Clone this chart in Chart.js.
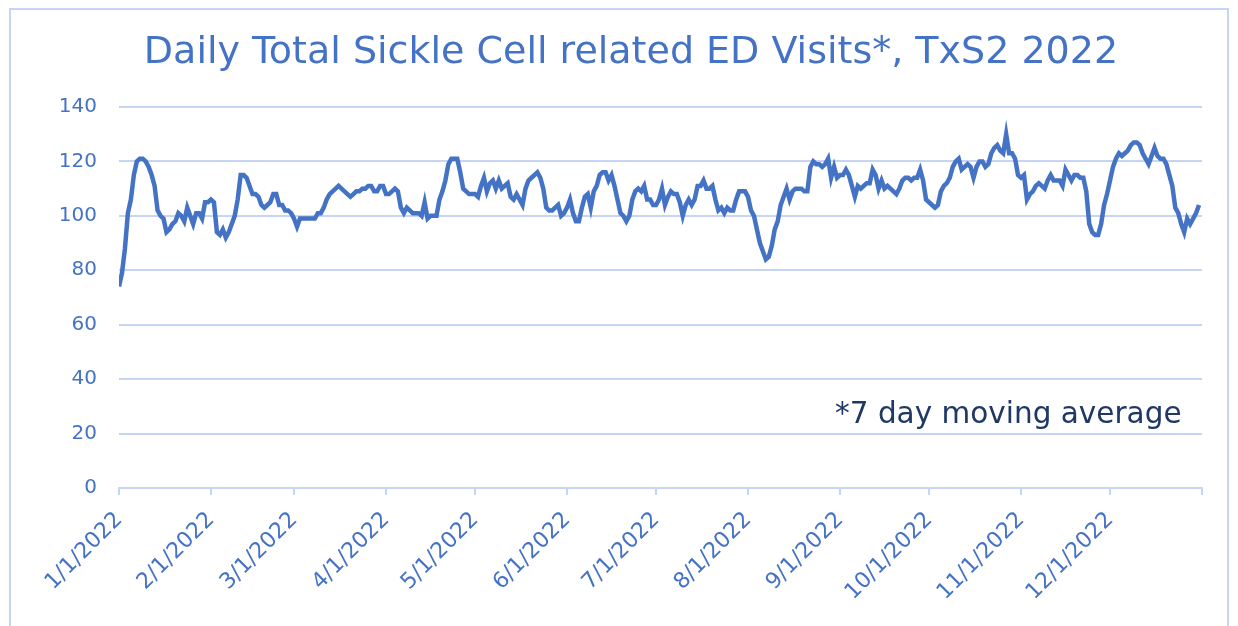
<!DOCTYPE html>
<html>
<head>
<meta charset="utf-8">
<script src="https://cdn.jsdelivr.net/npm/chart.js@4/dist/chart.umd.min.js"></script>
<style>
  html, body { margin: 0; padding: 0; background: #fff; }
  body { width: 1238px; height: 626px; position: relative; overflow: hidden; font-family: "DejaVu Sans", Verdana, sans-serif; }
  #frame { position: absolute; left: 9px; top: 8px; width: 1220px; height: 700px; border: 2px solid #c6d5f5; box-sizing: border-box; }
  #title { position: absolute; left: 0; width: 1262px; top: 28px; text-align: center; font-size: 38px; color: #4472c4; white-space: nowrap; }
  #note { position: absolute; left: 835px; top: 396px; font-size: 29.5px; color: #1f3864; white-space: nowrap; }
  #myChart { position: absolute; left: 0; top: 0; }
</style>
</head>
<body>
<div id="frame"></div>
<canvas id="myChart" width="1238" height="626"></canvas>
<div id="title">Daily Total Sickle Cell related ED Visits*, TxS2 2022</div>
<div id="note">*7 day moving average</div>
<script>
// daily 7-day moving average, one array per month of 2022
const jan = [74, 79, 88, 101, 106, 115, 120, 121, 121, 120, 118, 115, 111, 102, 100, 99, 94, 95, 97, 98, 101, 100, 98, 103, 100, 97, 101, 101, 99, 105, 105];
const feb = [106, 105, 94, 93, 95, 92, 94, 97, 100, 106, 115, 115, 114, 111, 108, 108, 107, 104, 103, 104, 105, 108, 108, 104, 104, 102, 102, 101];
const mar = [99, 96, 99, 99, 99, 99, 99, 99, 101, 101, 103, 106, 108, 109, 110, 111, 110, 109, 108, 107, 108, 109, 109, 110, 110, 111, 111, 109, 109, 111, 111];
const apr = [108, 108, 109, 110, 109, 103, 101, 103, 102, 101, 101, 101, 100, 105, 99, 100, 100, 100, 106, 109, 113, 119, 121, 121, 121, 116, 110, 109, 108, 108];
const may = [108, 107, 111, 114, 109, 112, 113, 110, 113, 110, 111, 112, 107, 106, 108, 106, 104, 110, 113, 114, 115, 116, 114, 110, 103, 102, 102, 103, 104, 100, 101];
const jun = [103, 106, 101, 98, 98, 103, 107, 108, 103, 109, 111, 115, 116, 116, 113, 115, 111, 106, 101, 100, 98, 100, 106, 109, 110, 109, 111, 106, 106, 104];
const jul = [104, 106, 110, 104, 107, 109, 108, 108, 105, 100, 104, 106, 104, 106, 111, 111, 113, 110, 110, 111, 106, 102, 103, 101, 103, 102, 102, 106, 109, 109, 109];
const aug = [107, 102, 100, 95, 90, 87, 84, 85, 89, 95, 98, 104, 107, 110, 106, 109, 110, 110, 110, 109, 109, 118, 120, 119, 119, 118, 119, 121, 114, 118, 114];
const sep = [115, 115, 117, 115, 111, 107, 111, 110, 111, 112, 112, 117, 115, 110, 113, 110, 111, 110, 109, 108, 110, 113, 114, 114, 113, 114, 114, 117, 113, 106];
const oct = [105, 104, 103, 104, 109, 111, 112, 114, 118, 120, 121, 117, 118, 119, 118, 114, 118, 120, 120, 118, 119, 123, 125, 126, 124, 123, 130, 123, 123, 121, 115];
const nov = [114, 115, 106, 108, 109, 111, 112, 111, 110, 113, 115, 113, 113, 113, 111, 117, 115, 113, 115, 115, 114, 114, 109, 97, 94, 93, 93, 97, 104, 108];
const dec = [113, 118, 121, 123, 122, 123, 124, 126, 127, 127, 126, 123, 121, 119, 122, 125, 122, 121, 121, 119, 115, 111, 103, 101, 97, 94, 99, 97, 99, 101, 104];

const monthLabels = ['1/1/2022', '2/1/2022', '3/1/2022', '4/1/2022', '5/1/2022', '6/1/2022',
  '7/1/2022', '8/1/2022', '9/1/2022', '10/1/2022', '11/1/2022', '12/1/2022', ''];
const yTicks = [0, 20, 40, 60, 80, 100, 120, 140];

const months = [jan, feb, mar, apr, may, jun, jul, aug, sep, oct, nov, dec];
const values = months.flat();
const monthStarts = [0];
months.forEach(m => monthStarts.push(monthStarts[monthStarts.length - 1] + m.length));

const blue = '#4472c4';
const grid = '#c6d5f5';

new Chart(document.getElementById('myChart').getContext('2d'), {
  type: 'line',
  data: {
    datasets: [{
      label: 'ED Visits',
      data: values.map((v, i) => ({ x: i, y: v })),
      borderColor: blue,
      borderWidth: 4.5,
      pointRadius: 0,
      tension: 0,
      fill: false
    }]
  },
  options: {
    responsive: false,
    animation: false,
    layout: { padding: { left: 0, top: 107, right: 36, bottom: 0 } },
    plugins: { legend: { display: false }, title: { display: false }, tooltip: { enabled: false } },
    scales: {
      x: {
        type: 'linear',
        min: 0,
        max: monthStarts[monthStarts.length - 1],
        afterBuildTicks: s => { s.ticks = monthStarts.map(v => ({ value: v })); },
        afterFit: s => { s.height = 138; },
        grid: { display: true, drawOnChartArea: false, drawTicks: true, tickLength: 7, color: grid, lineWidth: 2 },
        border: { display: true, color: grid, width: 2 },
        ticks: {
          autoSkip: false,
          minRotation: 45,
          maxRotation: 45,
          padding: 12,
          color: blue,
          font: { family: 'DejaVu Sans', size: 22 },
          callback: v => monthLabels[monthStarts.indexOf(v)] || ''
        }
      },
      y: {
        min: 0,
        max: 140,
        afterBuildTicks: s => { s.ticks = yTicks.map(v => ({ value: v })); },
        afterFit: s => { s.width = 119; },
        grid: { color: grid, lineWidth: 2, drawTicks: false },
        border: { display: false },
        ticks: {
          padding: 22,
          color: blue,
          font: { family: 'DejaVu Sans', size: 20 }
        }
      }
    }
  }
});
</script>
</body>
</html>
